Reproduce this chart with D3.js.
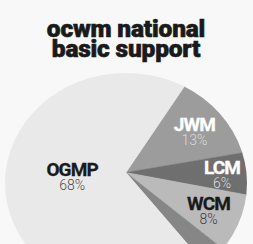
<!DOCTYPE html>
<html><head><meta charset="utf-8">
<script src="https://cdn.jsdelivr.net/npm/d3@7"></script>
<style>html,body{margin:0;padding:0;background:#f8f8f8;overflow:hidden} svg{display:block}</style>
</head><body>
<svg id="c" width="253" height="244"></svg>
<script>
const titleLines = ["ocwm national", "basic support"];
const categories = ["JWM", "LCM", "WCM", "Other", "OGMP"];
const values = [13, 6, 8, 3, 68];
const percentLabels = ["13%", "6%", "8%", "", "68%"];

const sliceColors = {JWM: "#9c9c9c", LCM: "#6f6f6f", WCM: "#bababa", Other: "#868686", OGMP: "#e9e9e9"};
const nameColors = {JWM: "#ffffff", LCM: "#ffffff", WCM: "#1a1a1a", OGMP: "#1a1a1a"};
const pctColors = {JWM: "#dadada", LCM: "#dedede", WCM: "#3c3c3c", OGMP: "#4a4a4a"};
const labelRadius = {JWM: 83, LCM: 96, WCM: 92, OGMP: 54};

const W = 253, H = 244;
const apex = [126, 172.5];
const yScale = 0.91;
const FONT = "Roboto, 'Liberation Sans', sans-serif";
const svg = d3.select("#c");
svg.append("rect").attr("width", W).attr("height", H).attr("fill", "#f8f8f8");

// title
svg.append("g").selectAll("text").data(titleLines).join("text")
  .attr("x", 126).attr("y", (d, i) => 37 + i * 20)
  .attr("text-anchor", "middle")
  .attr("font-family", FONT)
  .attr("font-weight", 900).attr("font-size", 24.5)
  .attr("letter-spacing", -0.2)
  .attr("fill", "#1a1a1a").attr("stroke", "#1a1a1a").attr("stroke-width", 0.6)
  .text(d => d);

// pie outline (photographed page -> ellipse)
const defs = svg.append("defs");
defs.append("clipPath").attr("id", "pieClip")
  .append("ellipse").attr("cx", 126).attr("cy", 183).attr("rx", 121).attr("ry", 110);

const data = categories.map((c, i) => ({cat: c, value: values[i], pct: percentLabels[i]}));
const startDeg = 31.7;
const pie = d3.pie().value(d => d.value).sort(null)
  .startAngle(startDeg * Math.PI / 180).endAngle((startDeg + 360) * Math.PI / 180);
const arcs = pie(data);
const arc = d3.arc().innerRadius(0).outerRadius(260);

const outer = svg.append("g").attr("clip-path", "url(#pieClip)");
const g = outer.append("g").attr("transform", `translate(${apex[0]},${apex[1]}) scale(1,${yScale})`);
g.selectAll("path").data(arcs).join("path")
  .attr("d", arc).attr("fill", d => sliceColors[d.data.cat])
  .attr("stroke", d => sliceColors[d.data.cat]).attr("stroke-width", 0.5);

// labels
const labeled = arcs.filter(d => d.data.pct);
const lab = svg.append("g").selectAll("g").data(labeled).join("g")
  .attr("transform", d => {
    const r = labelRadius[d.data.cat];
    const c = d3.arc().innerRadius(r).outerRadius(r).centroid(d);
    return `translate(${apex[0] + c[0]},${apex[1] + c[1] * yScale})`;
  });
lab.append("text").attr("y", 1).attr("text-anchor", "middle")
  .attr("font-family", FONT)
  .attr("font-weight", 700).attr("font-size", 19).attr("letter-spacing", -0.9)
  .attr("fill", d => nameColors[d.data.cat])
  .attr("stroke", d => nameColors[d.data.cat]).attr("stroke-width", 0.3)
  .text(d => d.data.cat);
lab.append("text").attr("y", 15).attr("text-anchor", "middle")
  .attr("font-family", FONT)
  .attr("font-weight", 300).attr("font-size", 14)
  .attr("fill", d => pctColors[d.data.cat]).text(d => d.data.pct);
</script>
</body></html>
